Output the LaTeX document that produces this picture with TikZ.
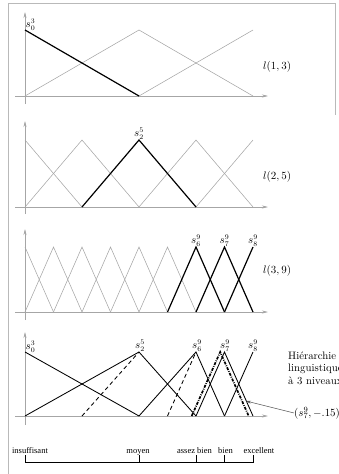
\documentclass[tikz,border=0pt]{standalone}
\usepackage{fontspec}
\newfontfamily\timesf{Liberation Serif}
\usetikzlibrary{arrows.meta}
\tikzset{
  frameline/.style={gray!55, line width=0.7pt},
  axisline/.style={gray!70, line width=0.55pt, -{Stealth[length=6pt,width=3pt]}},
  gridline/.style={gray!70, line width=0.55pt, line join=miter},
  termline/.style={black, line width=1.2pt, line join=miter},
  solidline/.style={black, line width=0.85pt, line join=miter},
  dashline/.style={black, line width=0.85pt, dash pattern=on 4pt off 3pt},
  shiftline/.style={black, line width=1.7pt, dash pattern=on 3pt off 1.2pt on 0.8pt off 1.2pt},
  lab/.style={inner sep=0.5pt, font=\fontsize{10.5}{12}\selectfont},
  lvl/.style={anchor=west, inner sep=0pt, font=\fontsize{10.5}{12}\selectfont},
  scalelab/.style={anchor=base, inner sep=0pt, font=\timesf\fontsize{8.5}{10}\selectfont},
}
\begin{document}
\begin{tikzpicture}[x=1pt,y=-1pt]
\useasboundingbox (0,0) rectangle (338,474);
\clip (0,0) rectangle (338,474);
% frame
\draw[frameline] (8,474) -- (8,3) -- (335,3) -- (335,115);

% ---------- panel 1 ----------
\draw[axisline] (15,96) -- (268,96);
\draw[axisline] (25,104) -- (25,12);
\draw[gridline] (25,96) -- (139,30) -- (253,96);
\draw[gridline] (139,96) -- (253,30);
\draw[termline] (25,30) -- (139,96);
\node[lab, anchor=south west] (p1s0) at (25,31) {$s^3_0$};
\node[lvl] (l13) at (263,67) {$l(1,3)$};

% ---------- panel 2 ----------
\draw[axisline] (15,207) -- (268,207);
\draw[axisline] (25,214) -- (25,121);
\draw[gridline] (25,140) -- (82,207);
\draw[gridline] (25,207) -- (82,140) -- (139,207);
\draw[gridline] (139,207) -- (196,140) -- (253,207);
\draw[gridline] (196,207) -- (253,140);
\draw[termline] (82,207) -- (139,140) -- (196,207);
\node[lab, anchor=south] (p2s2) at (139,140) {$s^5_2$};
\node[lvl] (l25) at (263,177) {$l(2,5)$};

% ---------- panel 3 ----------
\draw[axisline] (15,312) -- (268,312);
\draw[axisline] (25,320) -- (25,229);
\draw[gridline] (25,247) -- (53.5,312);
\foreach \i in {1,...,5} {
  \draw[gridline] ({25+28.5*(\i-1)},312) -- ({25+28.5*\i},247) -- ({25+28.5*(\i+1)},312);
}
\draw[termline] (167.5,312) -- (196,247) -- (224.5,312);
\draw[termline] (196,312) -- (224.5,247) -- (253,312);
\draw[termline] (224.5,312) -- (253,247);
\node[lab, anchor=south] (p3s6) at (196,247) {$s^9_6$};
\node[lab, anchor=south] (p3s7) at (224.5,247) {$s^9_7$};
\node[lab, anchor=south] (p3s8) at (253,247) {$s^9_8$};
\node[lvl] (l39) at (263,271) {$l(3,9)$};

% ---------- panel 4 ----------
\draw[axisline] (15,416) -- (268,416);
\draw[axisline] (25,425) -- (25,332);
\draw[solidline] (25,352) -- (139,416);
\draw[solidline] (25,416) -- (139,352) -- (196,416);
\draw[solidline] (139,416) -- (196,352) -- (224.5,416);
\draw[solidline] (196,416) -- (224.5,352) -- (253,416);
\draw[solidline] (224.5,416) -- (253,352);
\draw[dashline] (82,416) -- (139,352);
\draw[dashline] (167.5,416) -- (196,352);
\draw[shiftline] (191.7,416) -- (220.2,352) -- (248.7,416);
\node[lab, anchor=south west] (p4s0) at (25,353) {$s^3_0$};
\node[lab, anchor=south] (p4s2) at (140,352) {$s^5_2$};
\node[lab, anchor=south] (p4s6) at (197,352) {$s^9_6$};
\node[lab, anchor=south] (p4s7) at (225,352) {$s^9_7$};
\node[lab, anchor=south] (p4s8) at (253,352) {$s^9_8$};
\node[lvl, align=left, font=\fontsize{10.8}{12.5}\selectfont] (hier) at (288,368)
  {Hiérarchie\\linguistique\\à 3 niveaux};
\node[lvl, font=\fontsize{10.8}{12.5}\selectfont] (shift) at (294,413) {$(s^9_7,-.15)$};
\coordinate (tgt) at (246,401);
\draw[gray!70!black, line width=0.5pt, -{Stealth[length=5pt,width=3pt]}] (shift.west) -- (tgt);

% ---------- scale ----------
\draw[black, line width=0.8pt] (25,455) -- (25,462) -- (253,462) -- (253,455);
\draw[black, line width=0.8pt] (139,462) -- (139,455);
\draw[black, line width=0.8pt] (196,462) -- (196,455);
\draw[black, line width=0.8pt] (224.5,462) -- (224.5,455);
\node[scalelab] (ins) at (30,453) {insuffisant};
\node[scalelab] (moy) at (138,453) {moyen};
\node[scalelab] (ab) at (194.5,453) {assez bien};
\node[scalelab] (bien) at (225.5,453) {bien};
\node[scalelab] (exc) at (259,453) {excellent};
\end{tikzpicture}
\end{document}
